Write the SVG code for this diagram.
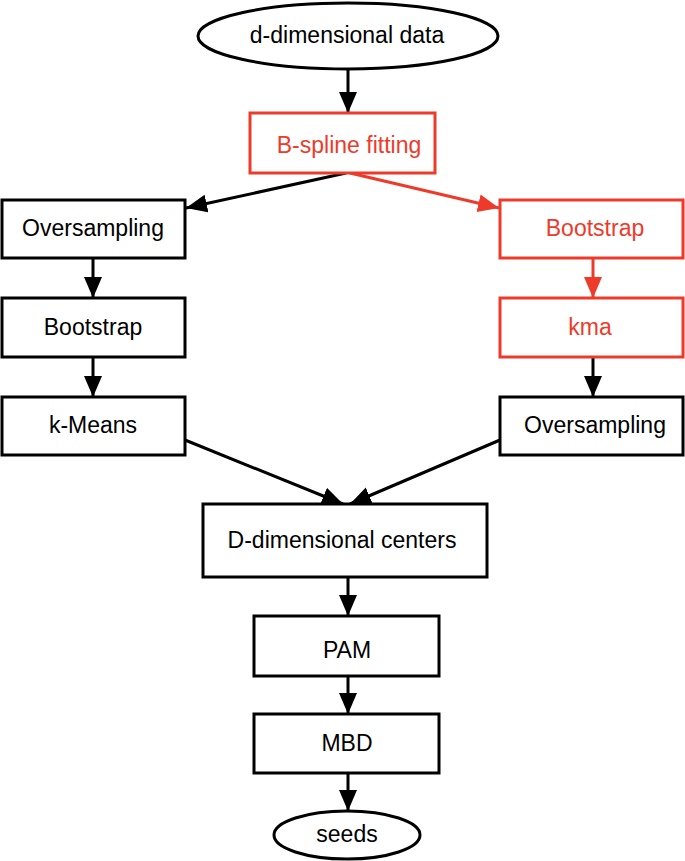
<svg xmlns="http://www.w3.org/2000/svg" width="685" height="861" viewBox="0 0 685 861">
<style>
.n{fill:#fff;stroke:#000;stroke-width:3}
.r{fill:#fff;stroke:#EE3A2A;stroke-width:3}
.t{font-family:"Liberation Sans",Arial,sans-serif;font-size:23px;fill:#000;text-anchor:middle;dominant-baseline:central}
.tr{fill:#EE3A2A}
.c{stroke:#000;stroke-width:3;fill:none}
.cr{stroke:#EE3A2A;stroke-width:3;fill:none}
</style>
<defs>
<marker id="a" markerUnits="userSpaceOnUse" markerWidth="22" markerHeight="20" refX="21" refY="10" orient="auto"><path d="M0,1 L21,10 L0,19 Z" fill="#000"/></marker>
<marker id="ar" markerUnits="userSpaceOnUse" markerWidth="22" markerHeight="20" refX="21" refY="10" orient="auto"><path d="M0,1 L21,10 L0,19 Z" fill="#EE3A2A"/></marker>
</defs>
<g id="connectors">
<line class="c" x1="348" y1="69" x2="348" y2="113" marker-end="url(#a)"/>
<line class="c" x1="346" y1="173" x2="186" y2="208" marker-end="url(#a)"/>
<line class="cr" x1="350" y1="173" x2="499" y2="208" marker-end="url(#ar)"/>
<line class="c" x1="93" y1="258" x2="93" y2="298" marker-end="url(#a)"/>
<line class="c" x1="93" y1="357" x2="93" y2="397" marker-end="url(#a)"/>
<line class="cr" x1="593" y1="258" x2="593" y2="298" marker-end="url(#ar)"/>
<line class="c" x1="593" y1="357" x2="593" y2="397" marker-end="url(#a)"/>
<line class="c" x1="185" y1="440" x2="343" y2="504" marker-end="url(#a)"/>
<line class="c" x1="500" y1="440" x2="350" y2="504" marker-end="url(#a)"/>
<line class="c" x1="348" y1="577" x2="348" y2="616" marker-end="url(#a)"/>
<line class="c" x1="348" y1="676" x2="348" y2="714" marker-end="url(#a)"/>
<line class="c" x1="348" y1="773" x2="348" y2="811" marker-end="url(#a)"/>
</g>
<g id="data"><ellipse class="n" cx="348" cy="36" rx="150" ry="33"/><text class="t" x="347" y="35">d-dimensional data</text></g>
<g id="bspline"><rect class="r" x="250" y="113" width="185" height="60"/><text class="t tr" x="349" y="145">B-spline fitting</text></g>
<g id="oversampling-left"><rect class="n" x="2" y="200" width="183" height="58"/><text class="t" x="93" y="228">Oversampling</text></g>
<g id="bootstrap-left"><rect class="n" x="2" y="298" width="183" height="59"/><text class="t" x="93" y="327">Bootstrap</text></g>
<g id="kmeans"><rect class="n" x="2" y="397" width="183" height="58"/><text class="t" x="93" y="425">k-Means</text></g>
<g id="bootstrap-right"><rect class="r" x="500" y="200" width="183" height="58"/><text class="t tr" x="595" y="228">Bootstrap</text></g>
<g id="kma"><rect class="r" x="500" y="298" width="183" height="59"/><text class="t tr" x="590" y="327">kma</text></g>
<g id="oversampling-right"><rect class="n" x="500" y="397" width="183" height="58"/><text class="t" x="595" y="425">Oversampling</text></g>
<g id="centers"><rect class="n" x="203" y="504" width="284" height="73"/><text class="t" x="342" y="540">D-dimensional centers</text></g>
<g id="pam"><rect class="n" x="254" y="616" width="185" height="60"/><text class="t" x="347" y="650">PAM</text></g>
<g id="mbd"><rect class="n" x="254" y="714" width="185" height="59"/><text class="t" x="347" y="743">MBD</text></g>
<g id="seeds"><ellipse class="n" cx="347" cy="835" rx="73" ry="24"/><text class="t" x="347" y="834">seeds</text></g>
</svg>
